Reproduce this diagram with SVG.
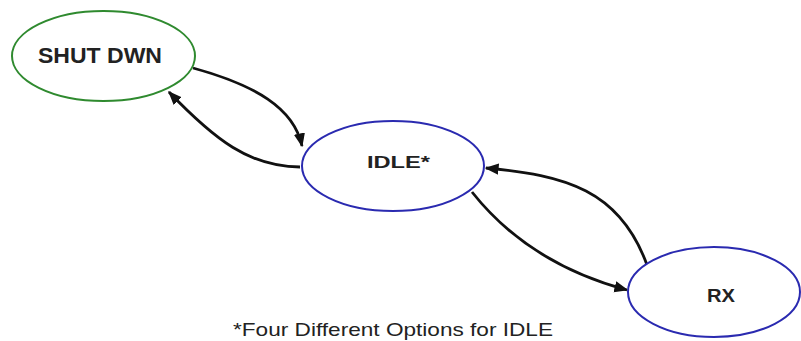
<svg xmlns="http://www.w3.org/2000/svg" width="801" height="341" viewBox="0 0 801 341">
<style>
.node{fill:#fff;stroke-width:2}
.green{stroke:#2f8a2f}
.blue{stroke:#2a2ab0}
.lbl{font-family:"Liberation Sans",Arial,sans-serif;font-weight:bold;fill:#222;text-anchor:middle}
.edge{fill:none;stroke:#111;stroke-width:2.8;marker-end:url(#ah)}
.note{font-family:"Liberation Sans",Arial,sans-serif;font-size:19px;fill:#222}
</style>
<defs>
<marker id="ah" viewBox="0 0 10 10" refX="9" refY="5" markerWidth="5" markerHeight="5" orient="auto" markerUnits="strokeWidth">
<path d="M0,1 L10,5 L0,9 z" fill="#111"/>
</marker>
</defs>
<rect width="801" height="341" fill="#fff"/>
<g id="connectors">
<path class="edge" d="M193,68 C255,85 294,108 302,146"/>
<path class="edge" d="M300,167 C250,167 215,140 169,92"/>
<path class="edge" d="M472,192 C510,240 560,272 627,290"/>
<path class="edge" d="M647,265 C620,190 565,175 486,168"/>
</g>
<g id="shutdwn">
<ellipse class="node green" cx="103.5" cy="56" rx="91.5" ry="45"/>
<text class="lbl" x="100" y="63" font-size="22" textLength="124" lengthAdjust="spacingAndGlyphs">SHUT DWN</text>
</g>
<g id="idle">
<ellipse class="node blue" cx="393" cy="166" rx="91" ry="45"/>
<text class="lbl" x="398.5" y="168" font-size="17" textLength="63" lengthAdjust="spacingAndGlyphs">IDLE*</text>
</g>
<g id="rx">
<ellipse class="node blue" cx="714" cy="292" rx="86" ry="45"/>
<text class="lbl" x="721" y="302" font-size="19" textLength="28" lengthAdjust="spacingAndGlyphs">RX</text>
</g>
<text class="note" x="233" y="336" textLength="320" lengthAdjust="spacingAndGlyphs">*Four Different Options for IDLE</text>
</svg>
